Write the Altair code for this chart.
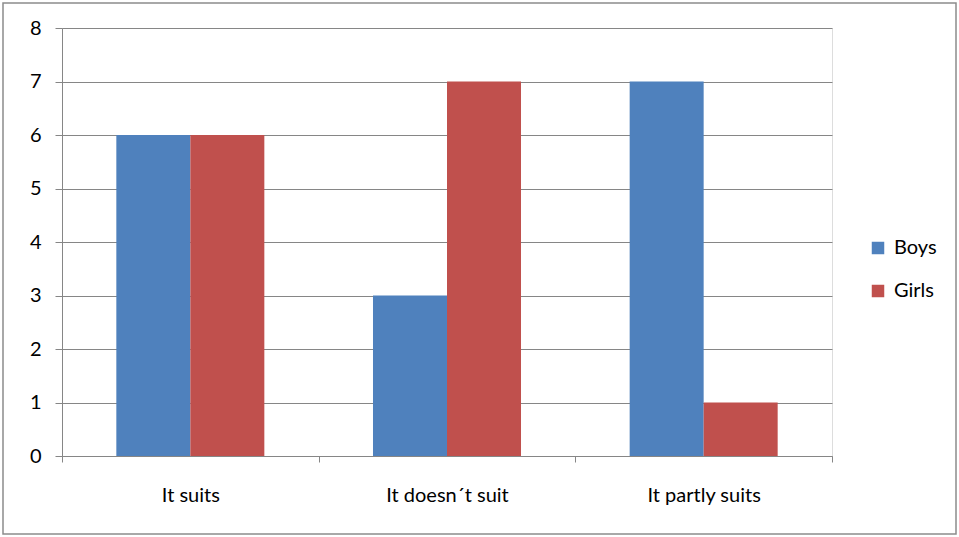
import altair as alt
import pandas as pd

# Survey answers by group
categories = ["It suits", "It doesn´t suit", "It partly suits"]
boys = [6, 3, 7]
girls = [6, 7, 1]
series = ["Boys", "Girls"]
colors = ["#4F81BD", "#C0504D"]
y_ticks = [0, 1, 2, 3, 4, 5, 6, 7, 8]

rows = []
for cat, b, g in zip(categories, boys, girls):
    rows.append({"answer": cat, "group": "Boys", "count": b})
    rows.append({"answer": cat, "group": "Girls", "count": g})
df = pd.DataFrame(rows)

FONT = "Lato"
FS = 20
GRID = "#868686"

bars = alt.Chart(df).mark_bar(size=74).encode(
    x=alt.X(
        "answer:N",
        sort=categories,
        title=None,
        scale=alt.Scale(paddingInner=0, paddingOuter=0),
        axis=alt.Axis(
            labelAngle=0,
            tickBand="extent",
            tickSize=6,
            tickColor=GRID,
            domainColor=GRID,
            labelPadding=23,
            labelFontSize=FS,
            labelColor="#000000",
            labelFont=FONT,
            grid=False,
        ),
    ),
    xOffset=alt.XOffset(
        "group:N",
        sort=series,
        scale=alt.Scale(paddingInner=0, paddingOuter=0.734),
    ),
    y=alt.Y(
        "count:Q",
        title=None,
        scale=alt.Scale(domain=[0, 8], nice=False),
        axis=alt.Axis(
            values=y_ticks,
            format="d",
            tickSize=7,
            tickColor=GRID,
            domainColor=GRID,
            gridColor=GRID,
            labelPadding=14,
            labelFontSize=FS,
            labelColor="#000000",
            labelFont=FONT,
        ),
    ),
    color=alt.Color(
        "group:N",
        sort=series,
        scale=alt.Scale(domain=series, range=colors),
        legend=alt.Legend(
            title=None,
            orient="none",
            legendX=806,
            legendY=210,
            symbolType="square",
            symbolSize=156,
            symbolStrokeWidth=0,
            labelFontSize=FS,
            labelFont=FONT,
            labelColor="#000000",
            labelOffset=6,
            rowPadding=23,
            padding=0,
        ),
    ),
)

# Frame around the whole chart
frame = alt.Chart(pd.DataFrame({"f": [0]})).mark_rect(
    fill=None, stroke="#8c8c8c", strokeWidth=1.5, clip=False
).encode(
    x=alt.value(-59), x2=alt.value(894), y=alt.value(-25), y2=alt.value(506)
)

chart = alt.layer(frame, bars).properties(
    width=770,
    height=428,
    autosize=alt.AutoSizeParams(type="none"),
    padding={"left": 62, "top": 28, "right": 127, "bottom": 81},
).configure_view(stroke=None).configure(background="#ffffff")

chart.save("out.html", embed_options={"renderer": "svg", "actions": False})
